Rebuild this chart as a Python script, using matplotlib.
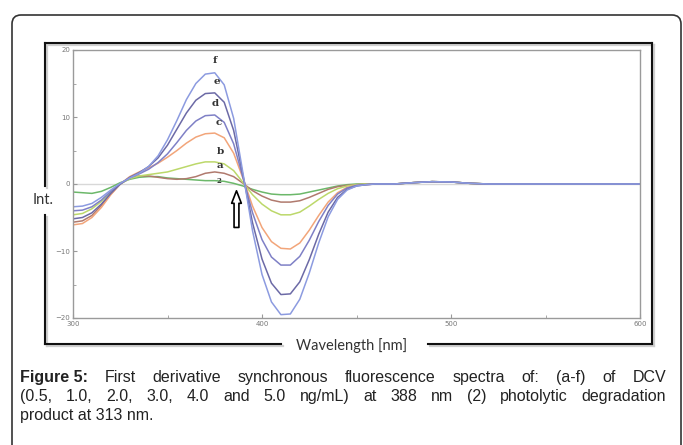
import matplotlib.pyplot as plt
import numpy as np
from matplotlib.patches import FancyBboxPatch

# ---------------- data ----------------
wl = [300, 305, 310, 315, 320, 325, 330, 335, 340, 345, 350, 355, 360, 365,
      370, 375, 380, 385, 390, 395, 400, 405, 410, 415, 420, 425, 430, 435,
      440, 445, 450, 455, 460, 470, 480, 490, 500, 510, 520, 540, 560, 580, 600]

tail = [0.0, 0.2, 0.35, 0.3, 0.1, 0.0, 0.0, 0.0, 0.0, 0.0]

f_vals = [-3.4, -3.3, -2.9, -2.0, -0.9, 0.1, 0.9, 1.6, 2.6, 4.2, 6.6, 9.5, 12.6, 15.0,
          16.4, 16.6, 14.8, 9.8, 1.5, -7.0, -13.5, -17.6, -19.5, -19.4, -17.2, -13.3, -8.8, -4.9,
          -2.3, -0.9, -0.3, -0.1, 0.0] + tail
e_vals = [-5.2, -5.0, -4.3, -3.0, -1.4, 0.0, 1.0, 1.7, 2.6, 3.9, 5.8, 8.2, 10.6, 12.5,
          13.5, 13.6, 12.2, 8.0, 1.2, -5.8, -11.2, -14.8, -16.5, -16.4, -14.6, -11.3, -7.5, -4.2,
          -2.0, -0.8, -0.3, -0.1, 0.0] + tail
d_vals = [-4.0, -3.9, -3.4, -2.4, -1.1, 0.0, 0.9, 1.5, 2.2, 3.2, 4.5, 6.2, 8.0, 9.4,
          10.2, 10.3, 9.2, 6.0, 0.9, -4.3, -8.3, -10.9, -12.1, -12.1, -10.8, -8.4, -5.6, -3.2,
          -1.5, -0.6, -0.2, -0.1, 0.0] + tail
c_vals = [-6.1, -5.9, -5.0, -3.5, -1.6, 0.0, 1.1, 1.8, 2.4, 3.1, 4.0, 5.0, 6.1, 7.0,
          7.5, 7.6, 6.9, 4.6, 0.8, -3.3, -6.5, -8.6, -9.6, -9.7, -8.8, -6.9, -4.7, -2.7,
          -1.3, -0.5, -0.2, -0.1, 0.0] + tail
b_vals = [-4.6, -4.4, -3.7, -2.6, -1.2, 0.0, 0.8, 1.2, 1.4, 1.6, 1.8, 2.2, 2.6, 3.0,
          3.3, 3.3, 3.0, 2.0, 0.2, -1.6, -3.0, -4.0, -4.6, -4.6, -4.2, -3.3, -2.3, -1.4,
          -0.7, -0.3, -0.1, 0.0, 0.0] + tail
a_vals = [-5.7, -5.5, -4.7, -3.2, -1.5, 0.0, 0.9, 1.2, 1.2, 1.0, 0.8, 0.7, 0.8, 1.1,
          1.6, 1.8, 1.6, 1.1, 0.1, -1.0, -1.8, -2.4, -2.7, -2.7, -2.5, -2.0, -1.4, -0.8,
          -0.4, -0.2, -0.1, 0.0, 0.0] + tail
deg_vals = [-1.2, -1.3, -1.4, -1.1, -0.5, 0.2, 0.7, 1.0, 1.1, 1.1, 0.9, 0.8, 0.7, 0.6,
            0.5, 0.5, 0.4, 0.1, -0.3, -0.8, -1.2, -1.5, -1.6, -1.6, -1.5, -1.2, -0.9, -0.6,
            -0.3, -0.1, 0.0, 0.0, 0.0] + tail

series = [('2', deg_vals), ('a', a_vals), ('b', b_vals), ('c', c_vals),
          ('d', d_vals), ('e', e_vals), ('f', f_vals)]
colors = {'2': '#6cb86a', 'a': '#b07a6e', 'b': '#bcd86a', 'c': '#f2a57a',
          'd': '#7f80c6', 'e': '#6c6aa6', 'f': '#8c9be0'}
label_xy = {'f': (375, 17.8), 'e': (376, 14.6), 'd': (375, 11.3), 'c': (377, 8.5),
            'b': (378, 4.2), 'a': (378, 2.1), '2': (377, -0.2)}

x_major = [300, 400, 500, 600]
y_major = [-20, -10, 0, 10, 20]

caption = [
    [('Figure 5:', True), ('First', False), ('derivative', False), ('synchronous', False),
     ('fluorescence', False), ('spectra', False), ('of:', False), ('(a-f)', False),
     ('of', False), ('DCV', False)],
    [('(0.5,', False), ('1.0,', False), ('2.0,', False), ('3.0,', False), ('4.0', False),
     ('and', False), ('5.0', False), ('ng/mL)', False), ('at', False), ('388', False),
     ('nm', False), ('(2)', False), ('photolytic', False), ('degradation', False)],
]
caption_last = 'product at 313 nm.'

# ---------------- figure ----------------
W, H = 683, 445
fig = plt.figure(figsize=(W / 100, H / 100), dpi=100)

over = fig.add_axes([0, 0, 1, 1], zorder=0)
over.set_xlim(0, W)
over.set_ylim(H, 0)
over.axis('off')

# outer rounded frame
over.add_patch(FancyBboxPatch((12, 15), 669, 460, boxstyle='round,pad=0,rounding_size=9',
                              fc='white', ec='#333333', lw=1.2))

# inner black frame with gaps for the axis titles (light shadow underneath)
L, T, R, B = 45, 43, 652, 344
for off, col, lw in [(1.5, '#cfcfcf', 1.6), (0, '#111111', 1.5)]:
    over.plot([L + off, R + off], [T + off, T + off], color=col, lw=lw)
    over.plot([R + off, R + off], [T + off, B + off], color=col, lw=lw)
    over.plot([L + off, 281 + off], [B + off, B + off], color=col, lw=lw)
    over.plot([428 + off, R + off], [B + off, B + off], color=col, lw=lw)
    over.plot([L + off, L + off], [T + off, 186 + off], color=col, lw=lw)
    over.plot([L + off, L + off], [215 + off, B + off], color=col, lw=lw)

over.text(352, 346, 'Wavelength [nm]', fontsize=10.5, family='Lato', color='#333333',
          ha='center', va='center')
over.text(43, 200, 'Int.', fontsize=10.5, family='Lato', color='#333333',
          ha='center', va='center')

# caption, justified like the journal layout
r = fig.canvas.get_renderer()
x0, x1 = 20, 666
for k, words in enumerate(caption):
    y = 382 + 19 * k
    arts = [over.text(0, y, w, fontsize=11.5, family='Liberation Sans', color='#222222',
                      fontweight='bold' if bold else 'normal', va='baseline')
            for w, bold in words]
    widths = [t.get_window_extent(r).width for t in arts]
    gap = (x1 - x0 - sum(widths)) / (len(arts) - 1)
    x = x0
    for t, wd in zip(arts, widths):
        t.set_x(x)
        x += wd + gap
over.text(x0, 382 + 38, caption_last, fontsize=11.5, family='Liberation Sans',
          color='#222222', va='baseline')

# ---------------- spectra axes ----------------
ax = fig.add_axes([73 / W, 1 - 318 / H, (640 - 73) / W, (318 - 50) / H], zorder=1)
ax.set_facecolor('none')
ax.axhline(0, color='#d8d8d8', lw=1.0, zorder=1)
for name, vals in series:
    ax.plot(wl, vals, color=colors[name], lw=1.1, zorder=2)
for name, (lx, ly) in label_xy.items():
    ax.text(lx, ly, name, fontsize=5 if name == '2' else 7.5, family='DejaVu Serif',
            color='#333333', ha='center', va='bottom', fontweight='bold', zorder=3)

ax.annotate('', xy=(386.5, -0.6), xytext=(386.5, -6.9),
            arrowprops=dict(arrowstyle='simple,head_length=0.9,head_width=0.7,tail_width=0.35',
                            fc='white', ec='black', lw=1.2), zorder=4)

ax.set_xlim(300, 600)
ax.set_ylim(-20, 20)
ax.set_xticks(x_major)
ax.set_yticks(y_major)
ax.set_xticks([350, 450, 550], minor=True)
ax.set_yticks([-15, -5, 5, 15], minor=True)
for s in ax.spines.values():
    s.set_color('#9a9a9a')
    s.set_linewidth(1.0)
ax.tick_params(which='both', direction='in', color='#9a9a9a', labelcolor='#777777',
               labelsize=5, length=3, pad=2)
ax.tick_params(which='minor', length=2)

fig.savefig('out.png', dpi=100)
